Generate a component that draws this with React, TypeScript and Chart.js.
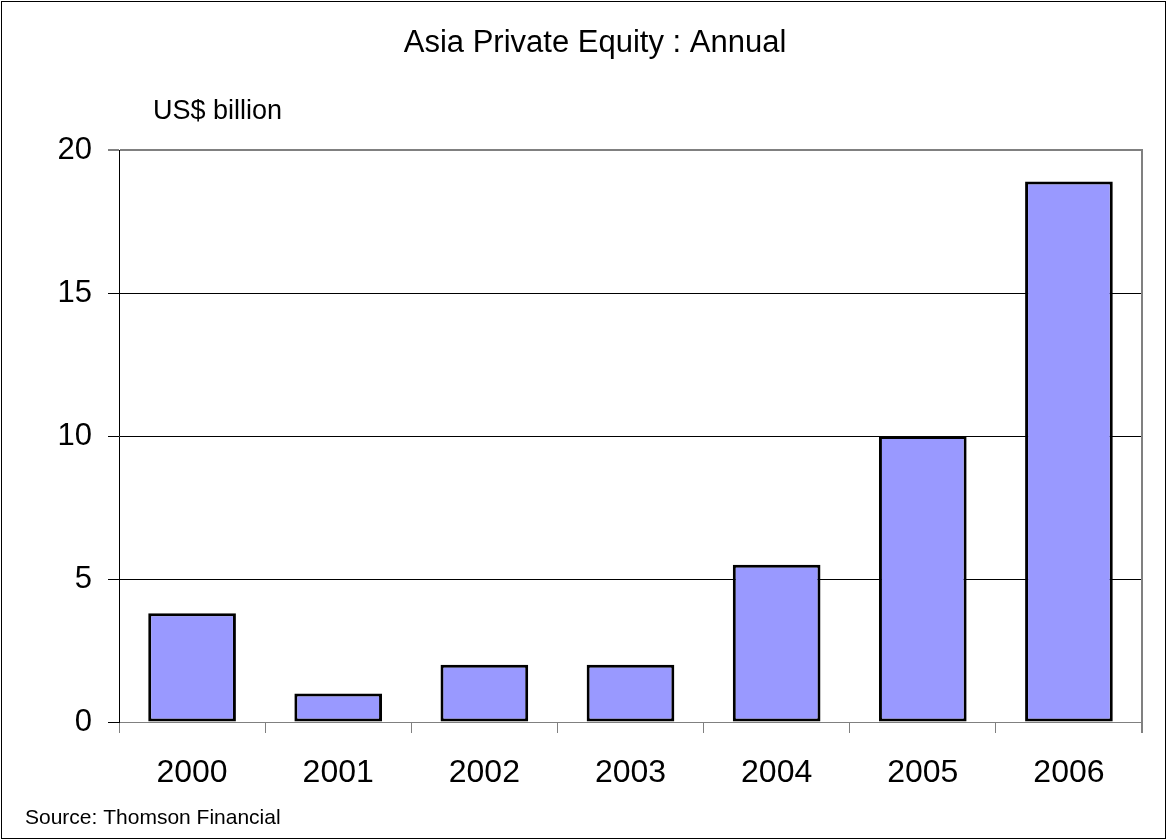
import React, { useEffect, useRef } from "react";
import { Chart, registerables } from "chart.js";

Chart.register(...registerables);

const years = ["2000", "2001", "2002", "2003", "2004", "2005", "2006"];
const values = [3.8, 1.0, 2.0, 2.0, 5.5, 10.0, 18.9];
const yTicks = [0, 5, 10, 15, 20];
const titleText = "Asia Private Equity : Annual";
const unitText = "US$ billion";
const sourceText = "Source: Thomson Financial";

const FONT = "'Liberation Sans', Arial, sans-serif";

export default function App() {
  const ref = useRef<HTMLCanvasElement | null>(null);
  useEffect(() => {
    if (!ref.current) return;
    const decor = {
      id: "decor",
      afterDraw(chart: any) {
        const ctx = chart.ctx;
        const a = chart.chartArea;
        ctx.save();
        // right plot border
        ctx.strokeStyle = "#808080";
        ctx.lineWidth = 2;
        ctx.beginPath();
        ctx.moveTo(a.right, a.top - 1);
        ctx.lineTo(a.right, a.bottom + 11);
        ctx.stroke();
        // outer border
        ctx.strokeStyle = "#000";
        ctx.lineWidth = 1;
        ctx.strokeRect(1.5, 1.5, 1164, 837);
        ctx.fillStyle = "#000";
        ctx.textBaseline = "middle";
        ctx.textAlign = "center";
        ctx.font = `31px ${FONT}`;
        ctx.fillText(titleText, 595, 43);
        ctx.textAlign = "left";
        ctx.font = `27px ${FONT}`;
        ctx.fillText(unitText, 153, 112);
        ctx.font = `21px ${FONT}`;
        ctx.fillText(sourceText, 25, 818);
        ctx.restore();
      },
    };
    const chart = new Chart(ref.current, {
      type: "bar",
      data: {
        labels: years,
        datasets: [
          {
            data: values,
            backgroundColor: "#9999FF",
            borderColor: "#000",
            borderWidth: 3,
            borderSkipped: false,
            barPercentage: 0.6,
            categoryPercentage: 1,
          },
        ],
      },
      options: {
        animation: false,
        responsive: false,
        devicePixelRatio: 1,
        layout: { padding: { left: 0, right: 25, top: 150, bottom: 38 } },
        plugins: { legend: { display: false }, tooltip: { enabled: false }, title: { display: false } },
        scales: {
          x: {
            afterFit: (s: any) => { s.height = 80; },
            grid: {
              drawOnChartArea: false,
              drawTicks: true,
              tickLength: 11,
              offset: true,
              color: "#808080",
            },
            border: { display: true, color: "#808080", width: 1 },
            ticks: { color: "#000", font: { family: FONT, size: 32 }, padding: 21 },
          },
          y: {
            min: 0,
            max: 20,
            afterFit: (s: any) => { s.width = 119; },
            afterBuildTicks: (s: any) => { s.ticks = yTicks.map((v) => ({ value: v })); },
            grid: {
              drawOnChartArea: true,
              drawTicks: true,
              tickLength: 11,
              color: (c: any) => (c.tick && c.tick.value === 20 ? "#808080" : c.tick && c.tick.value === 0 ? "rgba(0,0,0,0)" : "#000"),
              lineWidth: (c: any) => (c.tick && c.tick.value === 20 ? 2 : 1),
              tickColor: "#000",
              tickWidth: 1,
            },
            border: { display: true, color: "#000", width: 1 },
            ticks: { color: "#000", font: { family: FONT, size: 31 }, padding: 16 },
          },
        },
      },
      plugins: [decor],
    });
    return () => chart.destroy();
  }, []);
  return (
    <div style={{ position: "absolute", left: 0, top: 0, width: 1167, height: 840, background: "#fff" }}>
      <canvas ref={ref} width={1167} height={840} />
    </div>
  );
}
